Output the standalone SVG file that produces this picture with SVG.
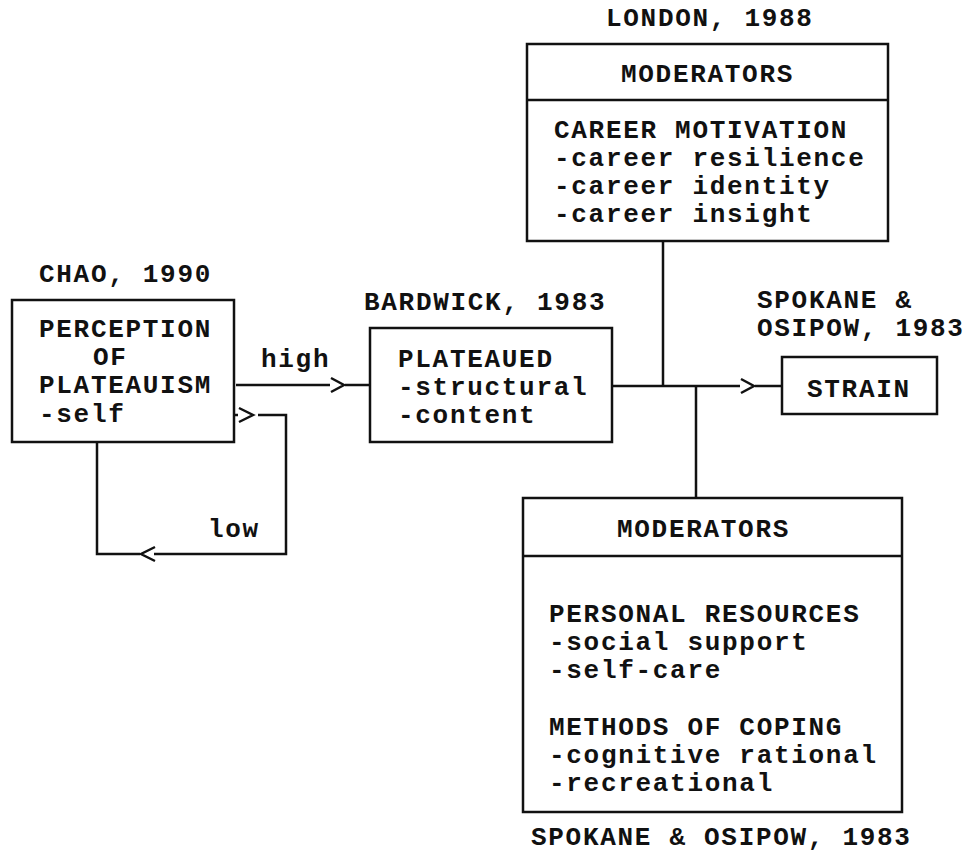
<svg xmlns="http://www.w3.org/2000/svg" width="965" height="854" viewBox="0 0 965 854">
<style>
text{font-family:"Liberation Mono","Courier New",monospace;font-size:26px;letter-spacing:1.7px;font-weight:bold;fill:#111}
.b{fill:#fff;stroke:#111;stroke-width:2.5}
.c{fill:none;stroke:#111;stroke-width:2.5}
.a{fill:none;stroke:#111;stroke-width:2.5;stroke-linejoin:miter}
</style>
<rect width="965" height="854" fill="#fff"/>
<g id="connectors">
<path class="c" d="M236 385H330M345 385H370"/>
<path class="a" d="M331 378L344 385L331 392"/>
<path class="c" d="M233 415H238M258 415H286V554H154M140 554H97V442"/>
<path class="a" d="M239 408L253 415L239 422"/>
<path class="a" d="M155 547L141 554L155 561"/>
<path class="c" d="M612 386H740M755 386H782"/>
<path class="a" d="M741 379L754 386L741 393"/>
<path class="c" d="M663 241V386M696 386V498"/>
<text x="261" y="367">high</text>
<text x="208" y="537">low</text>
</g>
<g id="chao">
<text x="39" y="282">CHAO, 1990</text>
<rect class="b" x="12" y="300" width="222" height="142"/>
<text><tspan x="39" y="337">PERCEPTION</tspan><tspan x="93" y="365">OF</tspan><tspan x="39" y="393">PLATEAUISM</tspan><tspan x="39" y="422">-self</tspan></text>
</g>
<g id="bardwick">
<text x="364" y="310">BARDWICK, 1983</text>
<rect class="b" x="370" y="328" width="242" height="114"/>
<text><tspan x="398" y="367">PLATEAUED</tspan><tspan x="398" y="395">-structural</tspan><tspan x="398" y="423">-content</tspan></text>
</g>
<g id="london">
<text x="606" y="26">LONDON, 1988</text>
<rect class="b" x="527" y="44" width="361" height="197"/>
<path class="c" d="M527 100H888"/>
<text x="621" y="82">MODERATORS</text>
<text><tspan x="554" y="138">CAREER MOTIVATION</tspan><tspan x="554" y="166">-career resilience</tspan><tspan x="554" y="194">-career identity</tspan><tspan x="554" y="222">-career insight</tspan></text>
</g>
<g id="strain">
<text><tspan x="757" y="308">SPOKANE &amp;</tspan><tspan x="757" y="336">OSIPOW, 1983</tspan></text>
<rect class="b" x="782" y="357" width="155" height="57"/>
<text x="807" y="397">STRAIN</text>
</g>
<g id="spokane">
<rect class="b" x="523" y="498" width="379" height="314"/>
<path class="c" d="M523 556H902"/>
<text x="617" y="537">MODERATORS</text>
<text><tspan x="549" y="622">PERSONAL RESOURCES</tspan><tspan x="549" y="650">-social support</tspan><tspan x="549" y="678">-self-care</tspan></text>
<text><tspan x="549" y="735">METHODS OF COPING</tspan><tspan x="549" y="763">-cognitive rational</tspan><tspan x="549" y="791">-recreational</tspan></text>
<text x="531" y="845">SPOKANE &amp; OSIPOW, 1983</text>
</g>
</svg>
